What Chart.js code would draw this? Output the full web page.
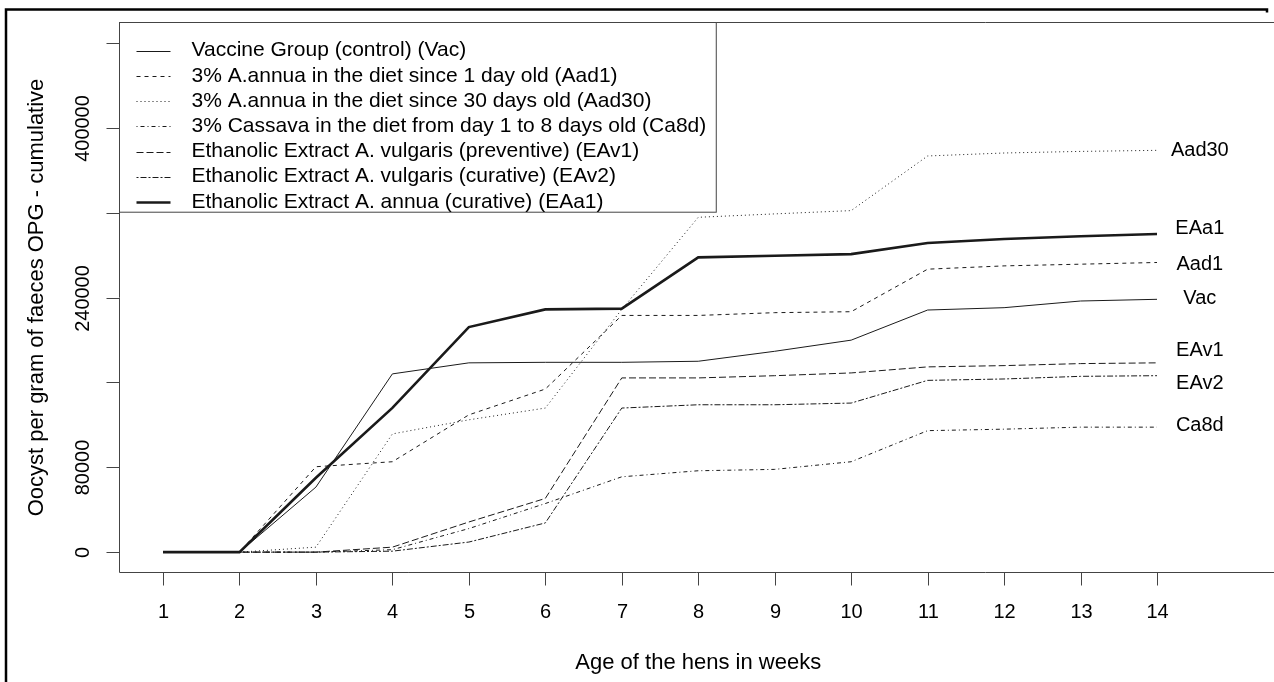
<!DOCTYPE html>
<html>
<head>
<meta charset="utf-8">
<script src="https://cdn.jsdelivr.net/npm/chart.js@4/dist/chart.umd.min.js"></script>
<style>
  html, body { margin: 0; padding: 0; background: #fff; overflow: hidden; }
  #c { display: block; }
</style>
</head>
<body>
<canvas id="c" width="1274" height="682"></canvas>
<script>
// Age of the hens (weeks)
const weeks = [1, 2, 3, 4, 5, 6, 7, 8, 9, 10, 11, 12, 13, 14];

// Cumulative oocysts per gram of faeces (OPG) per group
const vac   = [0, 0, 61300, 168000, 178400, 178900, 178900, 179900, 189300, 199800, 228200, 230400, 236700, 238300];
const aad1  = [0, 0, 80500, 85200, 129400, 153700, 223100, 223100, 225700, 226600, 266700, 269800, 271400, 273000];
const aad30 = [0, 0, 4700, 111400, 124700, 135800, 228800, 315600, 318800, 321900, 373400, 376200, 377700, 378700];
const ca8d  = [0, 0, 0, 2300, 22200, 45800, 71000, 76700, 78000, 85200, 114500, 115900, 117800, 117800];
const eav1  = [0, 0, 0, 4700, 28400, 50600, 164200, 164200, 166300, 168900, 174600, 175800, 177700, 178400];
const eav2  = [0, 0, 0, 900, 9500, 27500, 135800, 138900, 138900, 140500, 161900, 163200, 165700, 166300];
const eaa1  = [0, 0, 70100, 136000, 212100, 228800, 229500, 277800, 279300, 280900, 291300, 295100, 297700, 299800];

const legendNames = [
  'Vaccine Group (control) (Vac)',
  '3% A.annua in the diet since 1 day old (Aad1)',
  '3% A.annua in the diet since 30 days old (Aad30)',
  '3% Cassava in the diet from day 1 to 8 days old (Ca8d)',
  'Ethanolic Extract A. vulgaris (preventive) (EAv1)',
  'Ethanolic Extract A. vulgaris (curative) (EAv2)',
  'Ethanolic Extract A. annua (curative) (EAa1)'
];

// Short names written at the right-hand end of the curves
const endNames  = ['Aad30', 'EAa1', 'Aad1', 'Vac', 'EAv1', 'EAv2', 'Ca8d'];
const endNameY  = [378600, 305000, 271400, 238900, 190000, 159000, 118900];
const endNameX  = 14.56;

// Axis ticks
const yTicks      = [0, 80000, 160000, 240000, 320000, 400000, 480000];
const yTickLabels = ['0', '80000', '', '240000', '', '400000', ''];
const xTicks      = weeks;

const xTitle = 'Age of the hens in weeks';
const yTitle = 'Oocyst per gram of faeces OPG - cumulative';

const FONT = "'Liberation Sans', Arial, Helvetica, sans-serif";
const INK = '#1a1a1a';

// line styles: solid, dashed, dotted, dotdash, longdash, twodash, thick solid
const styles = [
  { dash: [], width: 1 },
  { dash: [4, 4], width: 1 },
  { dash: [1, 3], width: 1 },
  { dash: [1, 3, 4, 3], width: 1 },
  { dash: [7, 3], width: 1 },
  { dash: [2, 2, 6, 2], width: 1 },
  { dash: [], width: 2.6 }
];
const seriesValues = [vac, aad1, aad30, ca8d, eav1, eav2, eaa1];

const datasets = seriesValues.map((vals, i) => ({
  label: legendNames[i],
  data: weeks.map((w, k) => ({ x: w, y: vals[k] })),
  borderColor: INK,
  borderWidth: styles[i].width,
  borderDash: styles[i].dash,
  pointRadius: 0,
  tension: 0,
  fill: false
}));

const decorations = {
  id: 'decorations',
  afterDatasetsDraw(chart) {
    const { ctx, chartArea: a, scales } = chart;
    const x = scales.x, y = scales.y;
    ctx.save();

    // outer frame
    ctx.strokeStyle = '#000';
    ctx.lineWidth = 2.5;
    ctx.setLineDash([]);
    ctx.beginPath();
    ctx.moveTo(6, 682);
    ctx.lineTo(6, 9.5);
    ctx.lineTo(1267, 9.5);
    ctx.lineTo(1267, 12.5);
    ctx.stroke();

    // plot box (left, top, bottom)
    ctx.strokeStyle = '#444';
    ctx.lineWidth = 1;
    ctx.beginPath();
    ctx.moveTo(a.right, a.top);
    ctx.lineTo(a.left, a.top);
    ctx.lineTo(a.left, a.bottom);
    ctx.lineTo(a.right, a.bottom);
    ctx.stroke();

    // y ticks and labels
    ctx.fillStyle = '#000';
    ctx.font = '20px ' + FONT;
    yTicks.forEach((v, i) => {
      const py = Math.round(y.getPixelForValue(v)) + 0.5;
      ctx.beginPath();
      ctx.moveTo(a.left - 13, py);
      ctx.lineTo(a.left, py);
      ctx.stroke();
      if (yTickLabels[i]) {
        ctx.save();
        ctx.translate(83, py);
        ctx.rotate(-Math.PI / 2);
        ctx.textAlign = 'center';
        ctx.textBaseline = 'middle';
        ctx.fillText(yTickLabels[i], 0, 0);
        ctx.restore();
      }
    });

    // x ticks and labels
    xTicks.forEach(w => {
      const px = Math.round(x.getPixelForValue(w)) + 0.5;
      ctx.beginPath();
      ctx.moveTo(px, a.bottom);
      ctx.lineTo(px, a.bottom + 13);
      ctx.stroke();
      ctx.textAlign = 'center';
      ctx.textBaseline = 'middle';
      ctx.fillText(String(w), px, 612);
    });

    // names at the end of the curves
    ctx.textAlign = 'center';
    endNames.forEach((n, i) => {
      ctx.fillText(n, x.getPixelForValue(endNameX), y.getPixelForValue(endNameY[i]));
    });

    // axis titles
    ctx.font = '22px ' + FONT;
    ctx.textAlign = 'center';
    ctx.textBaseline = 'middle';
    ctx.fillText(xTitle, x.getPixelForValue(8), 663);
    ctx.save();
    ctx.translate(37, (a.top + a.bottom) / 2);
    ctx.rotate(-Math.PI / 2);
    ctx.fillText(yTitle, 0, 0);
    ctx.restore();

    // legend
    ctx.font = '21px ' + FONT;
    const rowH = 25.2;
    const textX = a.left + 72;
    let maxW = 0;
    legendNames.forEach(t => { maxW = Math.max(maxW, ctx.measureText(t).width); });
    const boxR = textX + maxW + 10;
    const boxB = a.top + 28.2 + 6 * rowH + 10.3;
    ctx.fillStyle = '#fff';
    ctx.fillRect(a.left, a.top, boxR - a.left, boxB - a.top);
    ctx.strokeStyle = '#444';
    ctx.lineWidth = 1;
    ctx.strokeRect(a.left, a.top, boxR - a.left, boxB - a.top);
    ctx.fillStyle = '#000';
    ctx.textAlign = 'left';
    legendNames.forEach((t, i) => {
      const cy = a.top + 28.2 + i * rowH;
      ctx.strokeStyle = INK;
      ctx.lineWidth = styles[i].width;
      ctx.setLineDash(styles[i].dash);
      ctx.beginPath();
      ctx.moveTo(a.left + 17, Math.round(cy) + 0.5);
      ctx.lineTo(a.left + 51, Math.round(cy) + 0.5);
      ctx.stroke();
      ctx.setLineDash([]);
      ctx.fillText(t, textX, cy);
    });

    ctx.restore();
  }
};

new Chart(document.getElementById('c'), {
  type: 'line',
  data: { datasets },
  options: {
    responsive: false,
    devicePixelRatio: 1,
    animation: false,
    layout: { padding: { left: 119.5, top: 22.5, right: 0, bottom: 682 - 572.5 } },
    plugins: { legend: { display: false }, tooltip: { enabled: false } },
    scales: {
      x: { type: 'linear', display: false, min: 0.431, max: 15.53 },
      y: { type: 'linear', display: false, min: -19200, max: 499200 }
    }
  },
  plugins: [decorations]
});
</script>
</body>
</html>
